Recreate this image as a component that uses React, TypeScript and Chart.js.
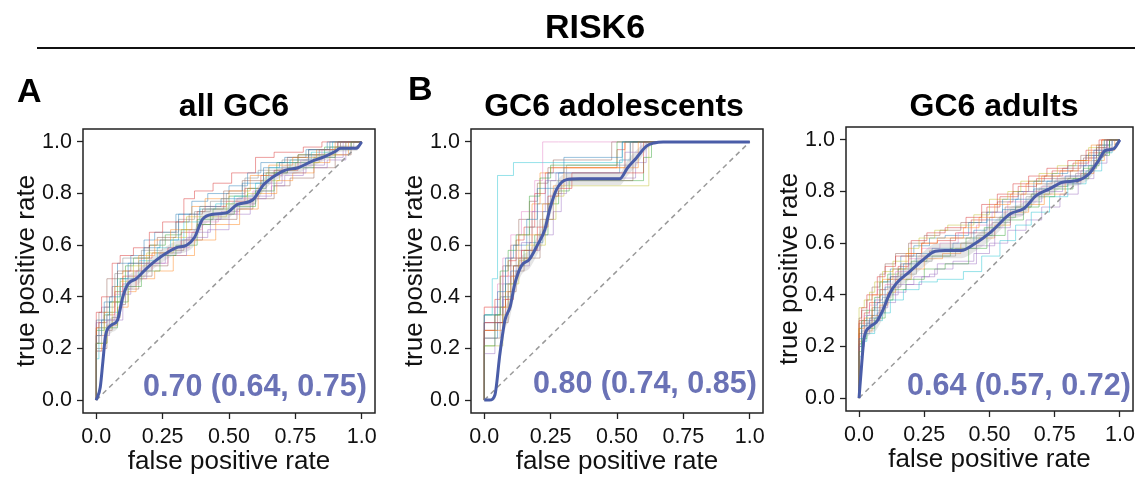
import React, { useEffect, useRef } from "react";
import { Chart, registerables } from "chart.js";

Chart.register(...registerables);

const FONT = "'Liberation Sans', Arial, Helvetica, sans-serif";
const MEAN_COLOR = "#4a5da8";
const AUC_COLOR = "#6a72b6";

// ---------- axis ticks ----------
const xTickValues = [0, 0.25, 0.5, 0.75, 1.0];
const xTickLabels = ["0.0", "0.25", "0.50", "0.75", "1.0"];
const yTickValues = [0, 0.2, 0.4, 0.6, 0.8, 1.0];
const yTickLabels = ["0.0", "0.2", "0.4", "0.6", "0.8", "1.0"];

// ---------- chance line ----------
const chanceX = [0, 1];
const chanceY = [0, 1];

// ---------- text ----------
const figureTitle = "RISK6";
const panelLetters = ["A", "B"];
const panelTitles = ["all GC6", "GC6 adolescents", "GC6 adults"];
const aucLabels = ["0.70 (0.64, 0.75)", "0.80 (0.74, 0.85)", "0.64 (0.57, 0.72)"];
const xAxisTitle = "false positive rate";
const yAxisTitle = "true positive rate";

// ---------- panel A: all GC6 ----------
const meanFprA = [0, 0.015, 0.025, 0.035, 0.056, 0.08, 0.1, 0.12, 0.15, 0.2, 0.25, 0.3, 0.34, 0.37, 0.4, 0.44, 0.49, 0.53, 0.59, 0.63, 0.66, 0.71, 0.76, 0.81, 0.86, 0.9, 0.92, 0.98, 1.0];
const meanTprA = [0, 0.05, 0.15, 0.25, 0.29, 0.31, 0.4, 0.45, 0.47, 0.52, 0.56, 0.59, 0.6, 0.63, 0.7, 0.72, 0.725, 0.757, 0.776, 0.834, 0.86, 0.89, 0.9, 0.924, 0.943, 0.963, 0.975, 0.975, 1.0];
const sdTprA = [0, 0.02, 0.03, 0.03, 0.03, 0.03, 0.03, 0.03, 0.03, 0.025, 0.025, 0.025, 0.025, 0.03, 0.03, 0.025, 0.025, 0.025, 0.025, 0.025, 0.02, 0.02, 0.02, 0.02, 0.015, 0.015, 0.012, 0.01, 0];

const bootA1 = [[0, 0], [0.02, 0.25], [0.05, 0.31], [0.09, 0.4], [0.12, 0.47], [0.18, 0.53], [0.24, 0.59], [0.31, 0.62], [0.39, 0.72], [0.47, 0.75], [0.55, 0.78], [0.63, 0.84], [0.69, 0.9], [0.8, 0.92], [0.88, 0.97], [0.95, 1.0], [1, 1]];
const bootA2 = [[0, 0], [0.03, 0.28], [0.07, 0.34], [0.1, 0.44], [0.16, 0.5], [0.22, 0.56], [0.28, 0.62], [0.36, 0.66], [0.41, 0.75], [0.5, 0.78], [0.58, 0.81], [0.65, 0.87], [0.74, 0.91], [0.83, 0.94], [0.9, 0.97], [0.97, 1.0], [1, 1]];
const bootA3 = [[0, 0], [0.04, 0.22], [0.08, 0.28], [0.12, 0.38], [0.17, 0.44], [0.24, 0.5], [0.3, 0.56], [0.38, 0.6], [0.43, 0.68], [0.52, 0.72], [0.6, 0.75], [0.67, 0.81], [0.72, 0.88], [0.82, 0.9], [0.9, 0.94], [0.96, 0.97], [1, 1]];
const bootA4 = [[0, 0], [0.02, 0.34], [0.06, 0.4], [0.09, 0.53], [0.14, 0.56], [0.2, 0.59], [0.25, 0.65], [0.33, 0.69], [0.37, 0.78], [0.44, 0.81], [0.51, 0.84], [0.6, 0.88], [0.67, 0.94], [0.78, 0.96], [0.85, 0.98], [0.92, 1.0], [1, 1]];
const bootA5 = [[0, 0], [0.03, 0.19], [0.05, 0.25], [0.1, 0.31], [0.13, 0.41], [0.19, 0.47], [0.26, 0.53], [0.34, 0.56], [0.42, 0.63], [0.5, 0.66], [0.58, 0.72], [0.64, 0.78], [0.7, 0.84], [0.79, 0.88], [0.86, 0.91], [0.93, 0.94], [1, 1]];
const bootA6 = [[0, 0], [0.01, 0.28], [0.04, 0.34], [0.08, 0.47], [0.13, 0.5], [0.2, 0.53], [0.23, 0.6], [0.3, 0.63], [0.35, 0.69], [0.4, 0.72], [0.48, 0.74], [0.55, 0.81], [0.63, 0.85], [0.72, 0.88], [0.8, 0.94], [0.91, 0.97], [1, 1]];
const bootA7 = [[0, 0], [0.04, 0.25], [0.07, 0.31], [0.11, 0.41], [0.15, 0.44], [0.21, 0.5], [0.27, 0.53], [0.35, 0.59], [0.4, 0.66], [0.46, 0.69], [0.53, 0.72], [0.59, 0.78], [0.66, 0.81], [0.7, 0.87], [0.77, 0.9], [0.85, 0.93], [0.92, 0.97], [1, 1]];
const bootA8 = [[0, 0], [0.02, 0.22], [0.03, 0.3], [0.07, 0.36], [0.1, 0.49], [0.17, 0.55], [0.25, 0.58], [0.31, 0.65], [0.37, 0.7], [0.43, 0.73], [0.49, 0.77], [0.56, 0.8], [0.61, 0.86], [0.7, 0.89], [0.8, 0.93], [0.88, 0.95], [0.97, 0.98], [1, 1]];
const bootA9 = [[0, 0], [0.03, 0.25], [0.06, 0.28], [0.09, 0.38], [0.14, 0.46], [0.19, 0.52], [0.29, 0.57], [0.34, 0.63], [0.42, 0.71], [0.49, 0.71], [0.57, 0.76], [0.62, 0.8], [0.69, 0.85], [0.75, 0.89], [0.84, 0.92], [0.9, 0.95], [0.94, 0.98], [1, 1]];
const bootA10 = [[0, 0], [0.01, 0.16], [0.04, 0.28], [0.09, 0.34], [0.11, 0.44], [0.16, 0.47], [0.23, 0.54], [0.28, 0.59], [0.33, 0.62], [0.39, 0.69], [0.45, 0.74], [0.52, 0.76], [0.6, 0.79], [0.65, 0.84], [0.73, 0.9], [0.81, 0.93], [0.89, 0.96], [1, 1]];
const bootA11 = [[0, 0], [0.03, 0.31], [0.06, 0.38], [0.08, 0.44], [0.13, 0.53], [0.18, 0.56], [0.22, 0.62], [0.3, 0.65], [0.36, 0.72], [0.42, 0.77], [0.5, 0.8], [0.57, 0.83], [0.62, 0.88], [0.71, 0.92], [0.79, 0.94], [0.87, 0.97], [0.93, 1.0], [1, 1]];
const bootA12 = [[0, 0], [0.02, 0.19], [0.04, 0.22], [0.08, 0.29], [0.12, 0.36], [0.15, 0.42], [0.22, 0.47], [0.29, 0.5], [0.37, 0.56], [0.45, 0.62], [0.54, 0.68], [0.61, 0.74], [0.68, 0.8], [0.74, 0.85], [0.82, 0.88], [0.88, 0.92], [0.95, 0.95], [1, 1]];
const bootA13 = [[0, 0], [0.03, 0.27], [0.05, 0.33], [0.08, 0.38], [0.11, 0.47], [0.14, 0.52], [0.2, 0.55], [0.26, 0.6], [0.32, 0.64], [0.38, 0.66], [0.44, 0.7], [0.5, 0.74], [0.57, 0.79], [0.64, 0.82], [0.68, 0.88], [0.76, 0.92], [0.86, 0.95], [0.92, 0.98], [1, 1]];
const bootA14 = [[0, 0], [0.01, 0.22], [0.04, 0.3], [0.07, 0.33], [0.1, 0.42], [0.17, 0.48], [0.21, 0.55], [0.27, 0.57], [0.32, 0.59], [0.38, 0.65], [0.41, 0.73], [0.49, 0.75], [0.56, 0.77], [0.62, 0.82], [0.67, 0.87], [0.76, 0.89], [0.84, 0.95], [0.91, 0.97], [0.96, 1.0], [1, 1]];
const bootA15 = [[0, 0], [0.02, 0.3], [0.05, 0.36], [0.1, 0.38], [0.12, 0.45], [0.18, 0.5], [0.24, 0.53], [0.32, 0.57], [0.36, 0.62], [0.43, 0.65], [0.47, 0.7], [0.54, 0.73], [0.6, 0.76], [0.66, 0.79], [0.71, 0.83], [0.78, 0.87], [0.87, 0.9], [0.94, 0.93], [1, 1]];
const bootA16 = [[0, 0], [0.04, 0.2], [0.06, 0.27], [0.09, 0.32], [0.11, 0.37], [0.16, 0.43], [0.21, 0.48], [0.27, 0.52], [0.33, 0.58], [0.4, 0.62], [0.45, 0.68], [0.53, 0.7], [0.59, 0.74], [0.67, 0.78], [0.73, 0.83], [0.82, 0.86], [0.9, 0.9], [0.96, 0.95], [1, 1]];

// ---------- panel B: GC6 adolescents ----------
const meanFprB = [0, 0.02, 0.04, 0.059, 0.078, 0.097, 0.115, 0.14, 0.17, 0.2, 0.228, 0.247, 0.272, 0.31, 0.36, 0.51, 0.54, 0.573, 0.61, 0.64, 0.674, 1.0];
const meanTprB = [0, 0.0, 0.02, 0.18, 0.31, 0.36, 0.45, 0.52, 0.545, 0.6, 0.66, 0.74, 0.815, 0.854, 0.857, 0.857, 0.9, 0.938, 0.983, 0.996, 1.0, 1.0];
const sdTprB = [0, 0, 0.02, 0.04, 0.04, 0.04, 0.04, 0.035, 0.035, 0.035, 0.035, 0.035, 0.03, 0.025, 0.025, 0.025, 0.03, 0.03, 0.015, 0.005, 0, 0];

const bootB1 = [[0, 0], [0.05, 0.33], [0.08, 0.42], [0.11, 0.55], [0.16, 0.6], [0.2, 0.7], [0.24, 0.82], [0.3, 0.88], [0.52, 0.94], [0.56, 1.0], [1, 1]];
const bootB2 = [[0, 0], [0.07, 0.27], [0.1, 0.36], [0.13, 0.48], [0.18, 0.55], [0.22, 0.64], [0.26, 0.76], [0.3, 0.83], [0.58, 0.9], [0.62, 1.0], [1, 1]];
const bootB3 = [[0, 0], [0.04, 0.21], [0.06, 0.33], [0.09, 0.5], [0.12, 0.58], [0.17, 0.64], [0.21, 0.79], [0.25, 0.86], [0.5, 0.91], [0.54, 1.0], [1, 1]];
const bootB4 = [[0, 0], [0.08, 0.3], [0.11, 0.39], [0.14, 0.52], [0.2, 0.58], [0.24, 0.67], [0.28, 0.79], [0.33, 0.82], [0.6, 0.88], [0.65, 1.0], [1, 1]];
const bootB5 = [[0, 0], [0.05, 0.36], [0.07, 0.45], [0.1, 0.55], [0.14, 0.64], [0.19, 0.73], [0.22, 0.85], [0.28, 1.0], [1, 1]];
const bootB6 = [[0, 0], [0.06, 0.24], [0.09, 0.3], [0.12, 0.42], [0.15, 0.5], [0.21, 0.55], [0.26, 0.7], [0.29, 0.8], [0.56, 0.85], [0.66, 1.0], [1, 1]];
const bootB7 = [[0, 0], [0.04, 0.18], [0.07, 0.36], [0.1, 0.45], [0.14, 0.55], [0.18, 0.61], [0.23, 0.73], [0.27, 0.85], [0.53, 0.88], [0.59, 0.96], [0.62, 1.0], [1, 1]];
const bootB8 = [[0, 0], [0.06, 0.3], [0.08, 0.4], [0.12, 0.52], [0.17, 0.58], [0.2, 0.67], [0.25, 0.76], [0.31, 0.85], [0.55, 0.91], [0.6, 1.0], [1, 1]];
const bootB9 = [[0, 0], [0.03, 0.33], [0.05, 0.47], [0.11, 0.87], [0.52, 0.92], [0.54, 1.0], [1, 1]];
const bootB10 = [[0, 0], [0.07, 0.21], [0.09, 0.33], [0.13, 0.45], [0.16, 0.54], [0.23, 0.6], [0.27, 0.7], [0.3, 0.79], [0.62, 0.83], [0.66, 1.0], [1, 1]];
const bootB11 = [[0, 0], [0.05, 0.24], [0.07, 0.3], [0.1, 0.4], [0.13, 0.5], [0.17, 0.55], [0.22, 0.61], [0.24, 0.73], [0.28, 0.82], [0.51, 0.88], [0.55, 0.93], [0.58, 1.0], [1, 1]];
const bootB12 = [[0, 0], [0.08, 0.36], [0.1, 0.42], [0.13, 0.55], [0.18, 0.64], [0.21, 0.76], [0.25, 0.88], [0.53, 0.9], [0.57, 1.0], [1, 1]];
const bootB13 = [[0, 0], [0.06, 0.33], [0.08, 0.36], [0.11, 0.45], [0.15, 0.52], [0.19, 0.58], [0.24, 0.64], [0.28, 0.76], [0.32, 0.81], [0.6, 0.85], [0.63, 0.94], [0.65, 1.0], [1, 1]];
const bootB14 = [[0, 0], [0.04, 0.27], [0.06, 0.39], [0.09, 0.48], [0.12, 0.54], [0.15, 0.62], [0.19, 0.67], [0.23, 0.8], [0.26, 0.88], [0.5, 0.9], [0.53, 0.97], [0.55, 1.0], [1, 1]];
const bootB15 = [[0, 0], [0.07, 0.3], [0.09, 0.39], [0.12, 0.48], [0.17, 0.52], [0.21, 0.58], [0.26, 0.64], [0.29, 0.73], [0.31, 0.8], [0.57, 0.86], [0.61, 0.92], [0.64, 1.0], [1, 1]];
const bootB16 = [[0, 0], [0.05, 0.27], [0.07, 0.33], [0.1, 0.52], [0.13, 0.6], [0.17, 0.7], [0.2, 0.77], [0.24, 0.84], [0.26, 0.9], [0.48, 0.93], [0.53, 1.0], [1, 1]];

// ---------- panel C: GC6 adults ----------
const meanFprC = [0, 0.01, 0.019, 0.041, 0.066, 0.091, 0.117, 0.142, 0.192, 0.242, 0.292, 0.33, 0.392, 0.442, 0.505, 0.58, 0.63, 0.68, 0.73, 0.78, 0.837, 0.881, 0.918, 0.944, 0.975, 1.0];
const meanTprC = [0, 0.13, 0.23, 0.275, 0.294, 0.34, 0.404, 0.443, 0.488, 0.533, 0.569, 0.572, 0.572, 0.597, 0.643, 0.714, 0.733, 0.785, 0.81, 0.836, 0.843, 0.868, 0.92, 0.959, 0.965, 1.0];
const sdTprC = [0, 0.03, 0.03, 0.03, 0.03, 0.03, 0.03, 0.03, 0.03, 0.03, 0.03, 0.03, 0.03, 0.03, 0.03, 0.025, 0.025, 0.025, 0.025, 0.02, 0.02, 0.02, 0.02, 0.015, 0.01, 0];

const bootC1 = [[0, 0], [0.01, 0.23], [0.04, 0.28], [0.07, 0.31], [0.1, 0.37], [0.12, 0.43], [0.17, 0.47], [0.22, 0.52], [0.28, 0.56], [0.36, 0.58], [0.44, 0.6], [0.49, 0.65], [0.55, 0.69], [0.6, 0.73], [0.67, 0.77], [0.72, 0.81], [0.79, 0.84], [0.86, 0.86], [0.9, 0.9], [0.94, 0.96], [0.98, 1.0], [1, 1]];
const bootC2 = [[0, 0], [0.02, 0.27], [0.05, 0.31], [0.09, 0.4], [0.13, 0.46], [0.18, 0.5], [0.24, 0.56], [0.3, 0.6], [0.4, 0.62], [0.46, 0.66], [0.52, 0.7], [0.58, 0.75], [0.64, 0.79], [0.7, 0.83], [0.77, 0.86], [0.84, 0.88], [0.89, 0.92], [0.93, 0.98], [1, 1]];
const bootC3 = [[0, 0], [0.01, 0.18], [0.03, 0.23], [0.06, 0.27], [0.1, 0.31], [0.13, 0.38], [0.18, 0.42], [0.25, 0.46], [0.33, 0.5], [0.42, 0.52], [0.49, 0.58], [0.56, 0.63], [0.63, 0.69], [0.69, 0.74], [0.75, 0.78], [0.82, 0.81], [0.88, 0.85], [0.92, 0.9], [0.96, 0.95], [1, 1]];
const bootC4 = [[0, 0], [0.01, 0.3], [0.03, 0.35], [0.07, 0.4], [0.1, 0.47], [0.14, 0.51], [0.2, 0.55], [0.26, 0.61], [0.33, 0.64], [0.41, 0.66], [0.47, 0.7], [0.53, 0.75], [0.59, 0.79], [0.65, 0.83], [0.72, 0.86], [0.8, 0.89], [0.87, 0.92], [0.92, 0.96], [0.97, 1.0], [1, 1]];
const bootC5 = [[0, 0], [0.02, 0.2], [0.04, 0.25], [0.08, 0.3], [0.11, 0.35], [0.15, 0.4], [0.21, 0.44], [0.27, 0.47], [0.3, 0.48], [0.45, 0.52], [0.52, 0.59], [0.58, 0.66], [0.63, 0.71], [0.7, 0.76], [0.78, 0.8], [0.85, 0.83], [0.9, 0.88], [0.95, 0.94], [1, 1]];
const bootC6 = [[0, 0], [0.01, 0.25], [0.05, 0.3], [0.08, 0.35], [0.11, 0.42], [0.16, 0.46], [0.2, 0.52], [0.27, 0.55], [0.35, 0.57], [0.43, 0.62], [0.5, 0.64], [0.56, 0.7], [0.62, 0.74], [0.68, 0.79], [0.74, 0.83], [0.81, 0.85], [0.86, 0.88], [0.91, 0.93], [0.95, 0.97], [1, 1]];
const bootC7 = [[0, 0], [0.02, 0.24], [0.04, 0.32], [0.07, 0.36], [0.1, 0.42], [0.14, 0.44], [0.19, 0.49], [0.24, 0.54], [0.31, 0.58], [0.38, 0.6], [0.45, 0.64], [0.51, 0.67], [0.57, 0.72], [0.63, 0.76], [0.7, 0.8], [0.76, 0.82], [0.84, 0.86], [0.88, 0.9], [0.93, 0.93], [0.97, 0.97], [1, 1]];
const bootC8 = [[0, 0], [0.01, 0.21], [0.02, 0.26], [0.05, 0.29], [0.09, 0.34], [0.12, 0.39], [0.16, 0.43], [0.22, 0.48], [0.28, 0.53], [0.37, 0.55], [0.45, 0.58], [0.51, 0.63], [0.58, 0.68], [0.64, 0.73], [0.69, 0.78], [0.75, 0.81], [0.83, 0.84], [0.89, 0.87], [0.92, 0.92], [0.96, 0.96], [1, 1]];
const bootC9 = [[0, 0], [0.02, 0.35], [0.04, 0.38], [0.06, 0.41], [0.09, 0.45], [0.13, 0.49], [0.19, 0.53], [0.23, 0.58], [0.29, 0.62], [0.34, 0.65], [0.44, 0.67], [0.5, 0.71], [0.57, 0.77], [0.62, 0.8], [0.69, 0.84], [0.76, 0.87], [0.83, 0.9], [0.88, 0.92], [0.94, 0.97], [0.98, 1.0], [1, 1]];
const bootC10 = [[0, 0], [0.01, 0.16], [0.03, 0.22], [0.06, 0.25], [0.09, 0.3], [0.12, 0.33], [0.17, 0.38], [0.23, 0.42], [0.3, 0.45], [0.4, 0.46], [0.47, 0.49], [0.54, 0.55], [0.6, 0.61], [0.66, 0.67], [0.73, 0.72], [0.8, 0.78], [0.87, 0.83], [0.93, 0.88], [0.97, 0.95], [1, 1]];
const bootC11 = [[0, 0], [0.01, 0.2], [0.03, 0.28], [0.06, 0.32], [0.09, 0.38], [0.12, 0.45], [0.16, 0.5], [0.21, 0.55], [0.27, 0.59], [0.33, 0.62], [0.42, 0.63], [0.49, 0.68], [0.55, 0.72], [0.61, 0.77], [0.67, 0.8], [0.74, 0.84], [0.8, 0.87], [0.87, 0.9], [0.92, 0.94], [0.97, 0.98], [1, 1]];
const bootC12 = [[0, 0], [0.02, 0.22], [0.05, 0.26], [0.08, 0.32], [0.11, 0.36], [0.14, 0.41], [0.2, 0.46], [0.25, 0.5], [0.32, 0.54], [0.39, 0.56], [0.46, 0.6], [0.52, 0.62], [0.58, 0.67], [0.65, 0.72], [0.71, 0.75], [0.79, 0.79], [0.85, 0.84], [0.9, 0.87], [0.94, 0.92], [0.98, 0.96], [1, 1]];
const bootC13 = [[0, 0], [0.01, 0.27], [0.03, 0.3], [0.06, 0.34], [0.08, 0.39], [0.11, 0.45], [0.15, 0.48], [0.2, 0.5], [0.26, 0.53], [0.35, 0.55], [0.41, 0.58], [0.48, 0.62], [0.54, 0.66], [0.6, 0.7], [0.66, 0.74], [0.73, 0.79], [0.8, 0.82], [0.86, 0.85], [0.91, 0.89], [0.96, 0.94], [1, 1]];
const bootC14 = [[0, 0], [0.02, 0.29], [0.04, 0.33], [0.08, 0.37], [0.12, 0.4], [0.15, 0.47], [0.19, 0.51], [0.24, 0.56], [0.3, 0.6], [0.37, 0.61], [0.43, 0.64], [0.49, 0.69], [0.54, 0.74], [0.61, 0.78], [0.68, 0.82], [0.74, 0.85], [0.82, 0.88], [0.88, 0.91], [0.93, 0.95], [1, 1]];
const bootC15 = [[0, 0], [0.01, 0.21], [0.03, 0.25], [0.07, 0.29], [0.1, 0.33], [0.14, 0.37], [0.18, 0.41], [0.24, 0.44], [0.29, 0.47], [0.36, 0.5], [0.44, 0.53], [0.5, 0.56], [0.57, 0.6], [0.64, 0.65], [0.7, 0.69], [0.77, 0.74], [0.84, 0.79], [0.9, 0.85], [0.95, 0.91], [1, 1]];
const bootC16 = [[0, 0], [0.01, 0.31], [0.03, 0.34], [0.05, 0.38], [0.08, 0.43], [0.1, 0.48], [0.14, 0.52], [0.19, 0.56], [0.25, 0.6], [0.31, 0.63], [0.39, 0.65], [0.47, 0.68], [0.53, 0.72], [0.59, 0.76], [0.65, 0.8], [0.71, 0.84], [0.78, 0.86], [0.85, 0.89], [0.91, 0.94], [0.96, 0.98], [1, 1]];

const bootColors = [
  "rgba(31,119,180,0.45)",
  "rgba(255,127,14,0.45)",
  "rgba(44,160,44,0.45)",
  "rgba(214,39,40,0.45)",
  "rgba(148,103,189,0.45)",
  "rgba(140,86,75,0.45)",
  "rgba(227,119,194,0.45)",
  "rgba(127,127,127,0.45)",
  "rgba(188,189,34,0.45)",
  "rgba(23,190,207,0.45)",
];

type Frame = { left: number; right: number; top: number; bottom: number; bottomPad: number };

const W = 1140;
const H = 478;
const Y_AXIS_W = 72;

const framePlugin = {
  id: "frameBox",
  afterDatasetsDraw(chart: any) {
    const { ctx, chartArea: a } = chart;
    ctx.save();
    ctx.strokeStyle = "#222";
    ctx.lineWidth = 1.5;
    ctx.strokeRect(a.left, a.top, a.right - a.left, a.bottom - a.top);
    ctx.restore();
  },
};

function RocPanel(props: {
  frame: Frame;
  meanX: number[];
  meanY: number[];
  sd: number[];
  boots: number[][][];
}) {
  const ref = useRef<HTMLCanvasElement | null>(null);
  useEffect(() => {
    const { frame, meanX, meanY, sd, boots } = props;
    const canvas = ref.current;
    if (!canvas) return;
    const datasets: any[] = [];
    datasets.push({
      data: meanX.map((x, i) => ({ x, y: meanY[i] })),
      borderColor: MEAN_COLOR,
      borderWidth: 3,
      pointRadius: 0,
      cubicInterpolationMode: "monotone",
      fill: false,
      order: 0,
    });
    datasets.push({
      data: meanX.map((x, i) => ({ x, y: Math.min(1, meanY[i] + sd[i]) })),
      borderColor: "rgba(0,0,0,0)",
      borderWidth: 0,
      pointRadius: 0,
      cubicInterpolationMode: "monotone",
      fill: false,
      order: 1,
    });
    datasets.push({
      data: meanX.map((x, i) => ({ x, y: Math.max(0, meanY[i] - sd[i]) })),
      borderColor: "rgba(0,0,0,0)",
      borderWidth: 0,
      pointRadius: 0,
      cubicInterpolationMode: "monotone",
      fill: "-1",
      backgroundColor: "rgba(150,150,150,0.25)",
      order: 1,
    });
    datasets.push({
      data: chanceX.map((x, i) => ({ x, y: chanceY[i] })),
      borderColor: "#9a9a9a",
      borderWidth: 1.5,
      borderDash: [5, 4],
      pointRadius: 0,
      fill: false,
      order: 2,
    });
    boots.forEach((b, k) => {
      datasets.push({
        data: b.map((p) => ({ x: p[0], y: p[1] })),
        borderColor: bootColors[k % bootColors.length],
        borderWidth: 1,
        pointRadius: 0,
        stepped: "after",
        fill: false,
        order: 3,
      });
    });

    const chart = new Chart(canvas, {
      type: "line",
      data: { datasets },
      options: {
        animation: false,
        responsive: false,
        maintainAspectRatio: false,
        devicePixelRatio: 1,
        events: [],
        layout: {
          padding: {
            left: frame.left - Y_AXIS_W,
            right: W - frame.right,
            top: frame.top,
            bottom: frame.bottomPad,
          },
        },
        plugins: {
          legend: { display: false },
          tooltip: { enabled: false },
          title: { display: false },
        },
        scales: {
          x: {
            type: "linear",
            min: -0.05,
            max: 1.05,
            afterFit: (s: any) => {
              s.height = H - frame.bottomPad - frame.bottom;
            },
            afterBuildTicks: (s: any) => {
              s.ticks = xTickValues.map((v) => ({ value: v }));
            },
            ticks: {
              callback: (_v: any, i: number) => xTickLabels[i],
              font: { size: 21.5, family: FONT },
              color: "#111",
              padding: 5,
              maxRotation: 0,
              autoSkip: false,
            },
            grid: {
              drawOnChartArea: false,
              drawTicks: true,
              tickLength: 6,
              tickColor: "#222",
              tickWidth: 1.3,
            },
            border: { display: false },
            title: {
              display: true,
              text: xAxisTitle,
              font: { size: 26, family: FONT },
              color: "#111",
              padding: { top: 0, bottom: 1 },
            },
          },
          y: {
            type: "linear",
            min: -0.05,
            max: 1.05,
            afterFit: (s: any) => {
              s.width = Y_AXIS_W;
            },
            afterBuildTicks: (s: any) => {
              s.ticks = yTickValues.map((v) => ({ value: v }));
            },
            ticks: {
              callback: (_v: any, i: number) => yTickLabels[i],
              font: { size: 21.5, family: FONT },
              color: "#111",
              padding: 5,
              autoSkip: false,
            },
            grid: {
              drawOnChartArea: false,
              drawTicks: true,
              tickLength: 6,
              tickColor: "#222",
              tickWidth: 1.3,
            },
            border: { display: false },
            title: {
              display: true,
              text: yAxisTitle,
              font: { size: 26, family: FONT },
              color: "#111",
              padding: { top: 0, bottom: 0 },
            },
          },
        },
      },
      plugins: [framePlugin],
    } as any);
    return () => chart.destroy();
  }, []);
  return (
    <canvas
      ref={ref}
      width={W}
      height={H}
      style={{ position: "absolute", left: 0, top: 0, width: W, height: H }}
    />
  );
}

function Txt(props: {
  text: string;
  x: number;
  baseline: number;
  size: number;
  bold?: boolean;
  color?: string;
  center?: boolean;
}) {
  const { text, x, baseline, size, bold, color, center } = props;
  return (
    <div
      style={{
        position: "absolute",
        left: x,
        top: baseline - 0.8465 * size,
        fontFamily: FONT,
        fontSize: size,
        lineHeight: `${size}px`,
        fontWeight: bold ? 700 : 400,
        color: color || "#000",
        whiteSpace: "nowrap",
        transform: center ? "translateX(-50%)" : undefined,
      }}
    >
      {text}
    </div>
  );
}

const frames: Frame[] = [
  { left: 83, right: 375, top: 129, bottom: 413, bottomPad: 0 },
  { left: 471, right: 763, top: 129, bottom: 413, bottomPad: 0 },
  { left: 846, right: 1138, top: 127, bottom: 411, bottomPad: 2 },
];

export default function App() {
  return (
    <div
      style={{
        position: "fixed",
        left: 0,
        top: 0,
        width: W,
        height: H,
        background: "#fff",
        overflow: "hidden",
      }}
    >
      <RocPanel frame={frames[0]} meanX={meanFprA} meanY={meanTprA} sd={sdTprA}
        boots={[bootA1, bootA2, bootA3, bootA4, bootA5, bootA6, bootA7, bootA8, bootA9, bootA10, bootA11, bootA12, bootA13, bootA14, bootA15, bootA16]} />
      <RocPanel frame={frames[1]} meanX={meanFprB} meanY={meanTprB} sd={sdTprB}
        boots={[bootB1, bootB2, bootB3, bootB4, bootB7, bootB6, bootB5, bootB8, bootB10, bootB9, bootB11, bootB12, bootB13, bootB14, bootB15, bootB16]} />
      <RocPanel frame={frames[2]} meanX={meanFprC} meanY={meanTprC} sd={sdTprC}
        boots={[bootC1, bootC2, bootC3, bootC4, bootC5, bootC6, bootC7, bootC8, bootC9, bootC10, bootC11, bootC12, bootC13, bootC14, bootC15, bootC16]} />

      <Txt text={figureTitle} x={595} baseline={38} size={34} bold center />
      <div style={{ position: "absolute", left: 37, top: 47, width: 1098, height: 0, borderTop: "2px solid #111" }} />
      <Txt text={panelLetters[0]} x={17} baseline={102} size={34} bold />
      <Txt text={panelLetters[1]} x={408} baseline={100} size={34} bold />

      <Txt text={panelTitles[0]} x={234} baseline={116} size={32} bold center />
      <Txt text={panelTitles[1]} x={614} baseline={116} size={32} bold center />
      <Txt text={panelTitles[2]} x={994} baseline={116} size={32} bold center />

      <Txt text={aucLabels[0]} x={143} baseline={396} size={30.5} bold color={AUC_COLOR} />
      <Txt text={aucLabels[1]} x={533} baseline={393} size={30.5} bold color={AUC_COLOR} />
      <Txt text={aucLabels[2]} x={907} baseline={395} size={30.5} bold color={AUC_COLOR} />
    </div>
  );
}
